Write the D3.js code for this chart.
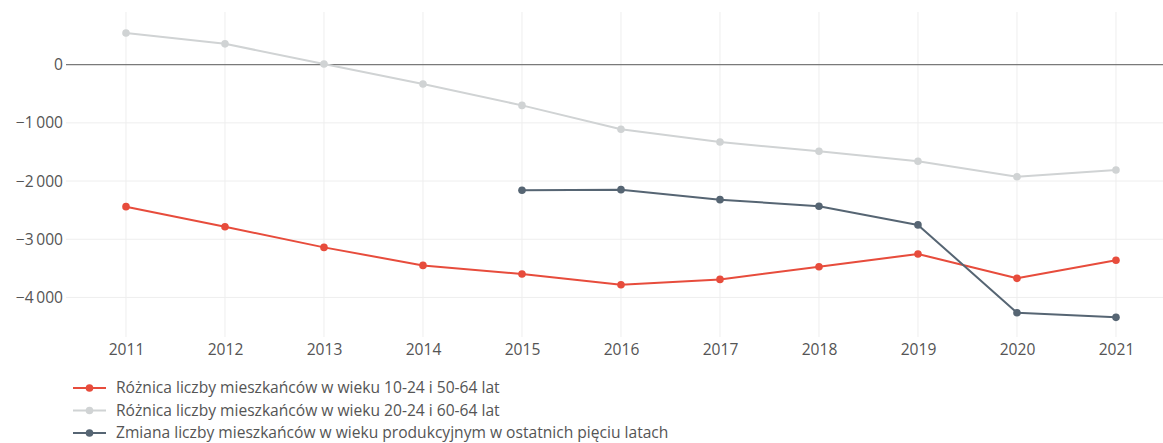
<!DOCTYPE html>
<html>
<head>
<meta charset="utf-8">
<script src="https://cdn.jsdelivr.net/npm/d3@7"></script>
<style>
  html, body { margin: 0; padding: 0; background: #fff; }
  svg { display: block; font-family: "Open Sans", "DejaVu Sans", sans-serif; }
</style>
</head>
<body>
<svg id="chart" width="1163" height="443"></svg>
<script>
// Years on the horizontal axis
const years = [2011, 2012, 2013, 2014, 2015, 2016, 2017, 2018, 2019, 2020, 2021];

// Difference between residents aged 10-24 and 50-64
const diff1024_5064 = [-2440, -2785, -3140, -3450, -3597, -3782, -3690, -3472, -3253, -3672, -3362];
// Difference between residents aged 20-24 and 60-64
const diff2024_6064 = [545, 358, 12, -332, -700, -1110, -1330, -1488, -1660, -1926, -1810];
// Change in working-age residents over the previous five years (from 2015)
const workingAgeChange = [null, null, null, null, -2158, -2148, -2320, -2433, -2754, -4262, -4342];

const yTicks = [0, -1000, -2000, -3000, -4000];

const seriesNames = [
  "Różnica liczby mieszkańców w wieku 10-24 i 50-64 lat",
  "Różnica liczby mieszkańców w wieku 20-24 i 60-64 lat",
  "Zmiana liczby mieszkańców w wieku produkcyjnym w ostatnich pięciu latach"
];
const seriesColors = ["#e74c3c", "#d0d3d4", "#566573"];
const seriesValues = [diff1024_5064, diff2024_6064, workingAgeChange];

const W = 1163, H = 443;
const plot = { left: 66, right: 1163, top: 12, bottom: 337 };
const FONT = "'Open Sans', sans-serif";
const FONT_SIZE = 15.6;
const TEXT_COLOR = "#555";

const svg = d3.select("#chart");

const x = d3.scaleLinear()
  .domain([2010.394, 2021.475])
  .range([plot.left, plot.right]);

const y = d3.scaleLinear()
  .domain([905, -4680])
  .range([plot.top, plot.bottom]);

// Number format with thin-space thousands and a true minus sign
const fmt = d3.formatLocale({ decimal: ",", thousands: "\u2009", grouping: [3], currency: ["", ""], minus: "\u2212" }).format(",d");

// Horizontal grid
svg.append("g")
  .selectAll("line")
  .data(yTicks.filter(d => d !== 0))
  .join("line")
  .attr("x1", plot.left).attr("x2", plot.right)
  .attr("y1", d => y(d)).attr("y2", d => y(d))
  .attr("stroke", "#eeeeee").attr("stroke-width", 1);

// Vertical grid
svg.append("g")
  .selectAll("line")
  .data(years)
  .join("line")
  .attr("x1", d => x(d)).attr("x2", d => x(d))
  .attr("y1", plot.top).attr("y2", plot.bottom)
  .attr("stroke", "#eeeeee").attr("stroke-width", 1);

// Zero line
svg.append("line")
  .attr("x1", plot.left).attr("x2", plot.right)
  .attr("y1", y(0)).attr("y2", y(0))
  .attr("stroke", "#7a7a7a").attr("stroke-width", 1.4);

// Y axis labels
const yAxis = d3.axisLeft(y).tickValues(yTicks).tickFormat(fmt).tickSize(0).tickPadding(3);
svg.append("g")
  .attr("transform", `translate(${plot.left},0)`)
  .call(yAxis)
  .call(g => g.select(".domain").remove())
  .call(g => g.selectAll("text").attr("fill", TEXT_COLOR).attr("font-size", FONT_SIZE).attr("font-family", FONT));

// X axis labels
const xAxis = d3.axisBottom(x).tickValues(years).tickFormat(d3.format("d")).tickSize(0).tickPadding(7);
svg.append("g")
  .attr("transform", `translate(0,${plot.bottom})`)
  .call(xAxis)
  .call(g => g.select(".domain").remove())
  .call(g => g.selectAll("text").attr("fill", TEXT_COLOR).attr("font-size", FONT_SIZE).attr("font-family", FONT));

// Series lines and markers
const line = d3.line()
  .defined(d => d.v !== null)
  .x(d => x(d.year))
  .y(d => y(d.v));

seriesValues.forEach((vals, i) => {
  const pts = years.map((yr, j) => ({ year: yr, v: vals[j] }));
  const g = svg.append("g");
  g.append("path")
    .datum(pts)
    .attr("d", line)
    .attr("fill", "none")
    .attr("stroke", seriesColors[i])
    .attr("stroke-width", 2)
    .attr("stroke-linejoin", "round");
  g.selectAll("circle")
    .data(pts.filter(d => d.v !== null))
    .join("circle")
    .attr("cx", d => x(d.year))
    .attr("cy", d => y(d.v))
    .attr("r", 3.8)
    .attr("fill", seriesColors[i]);
});

// Legend
const legend = svg.append("g").attr("transform", "translate(73,388)");
seriesNames.forEach((name, i) => {
  const row = legend.append("g").attr("transform", `translate(0,${i * 22.5})`);
  row.append("line")
    .attr("x1", 0).attr("x2", 33)
    .attr("stroke", seriesColors[i]).attr("stroke-width", 2);
  row.append("circle")
    .attr("cx", 16.5).attr("cy", 0).attr("r", 3.8)
    .attr("fill", seriesColors[i]);
  row.append("text")
    .attr("x", 43).attr("y", 0).attr("dy", "0.33em")
    .attr("fill", TEXT_COLOR).attr("font-size", FONT_SIZE)
    .attr("font-family", FONT)
    .text(name);
});
</script>
</body>
</html>
